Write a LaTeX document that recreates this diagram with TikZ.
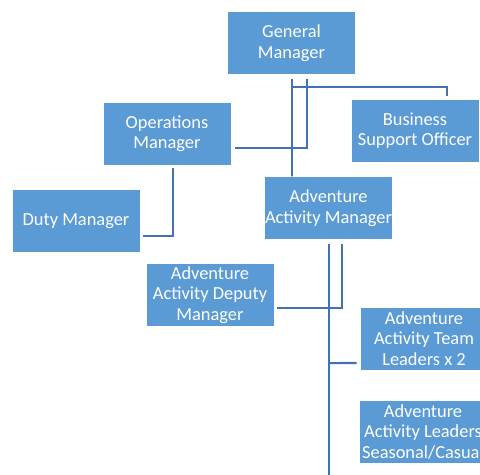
\documentclass[tikz,border=0pt]{standalone}
\usepackage{fontspec}
\setmainfont{Carlito}
\usetikzlibrary{calc}
\definecolor{boxblue}{RGB}{91,155,213}
\definecolor{linkblue}{RGB}{68,114,176}
\begin{document}
\begin{tikzpicture}[x=0.75pt,y=-0.75pt,
  role/.style={fill=boxblue,draw=white,line width=0.4pt,text=white,
    minimum width=96pt,minimum height=47pt,inner sep=0pt,align=center,
    font=\fontsize{13.8}{15.4}\selectfont},
  link/.style={draw=linkblue,line width=1.6pt}]
\useasboundingbox (0,0) rectangle (480,475);
\clip (0,0) rectangle (480,475);

% boxes
\node[role] (gm)   at (291.5,43)  {General\\Manager};
\node[role] (bso)  at (415,130.5) {Business\\Support Officer};
\node[role] (ops)  at (167,133.5) {Operations\\Manager};
\node[role] (duty) at (76,221)    {Duty Manager};
\node[role] (aam)  at (328.5,208) {Adventure\\Activity Manager};
\node[role] (aadm) at (210,295)   {Adventure\\Activity Deputy\\Manager};
\node[role] (aatl) at (424,338.5) {Adventure\\Activity Team\\Leaders x 2};
\node[role] (aal)  at (423,432)   {Adventure\\Activity Leaders\\Seasonal/Casual};

% junction points
\coordinate (gmA) at ($(gm.south)+(0.5,4)$);
\coordinate (gmB) at ($(gm.south)+(15.5,4)$);
\coordinate (aamA) at ($(aam.south)+(0.5,4)$);
\coordinate (aamB) at ($(aam.south)+(13.5,4)$);
\coordinate (aamEnd) at ($(aamA)+(0,240)$);

% General Manager links
\draw[link] (gmA) -- (gmA |- aam.north) -- ++(0,-3);
\draw[link] (gmB) |- ($(ops.east)+(4,14.5)$);
\draw[link] ($(gmA)+(0,8)$) -| ($(bso.north)+(32,-3)$);

% Operations Manager to Duty Manager
\draw[link] ($(ops.south)+(6,3)$) |- ($(duty.east)+(3,15)$);

% Adventure Activity Manager links
\draw[link] (aamA) -- (aamEnd);
\draw[link] (aamB) |- ($(aadm.east)+(3,13)$);
\draw[link] ($(aamA |- aatl.south)+(0,-7)$) -- ($(aatl.west)+(-3,24.5)$);
\end{tikzpicture}
\end{document}
